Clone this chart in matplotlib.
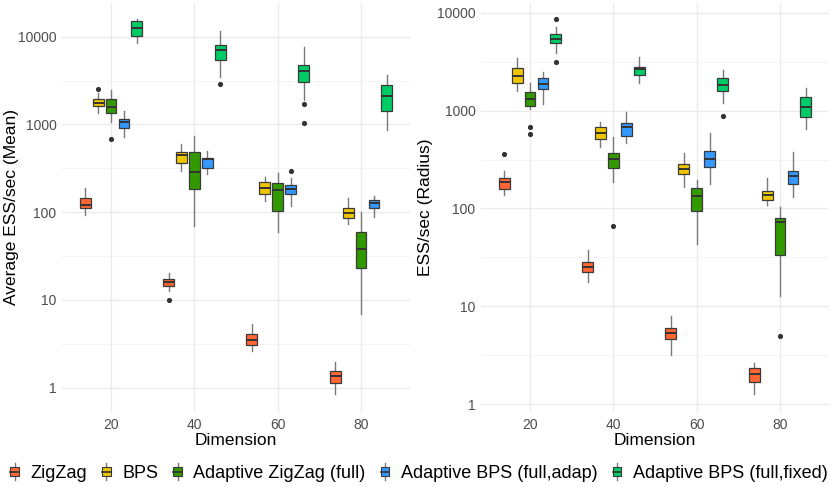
import matplotlib
matplotlib.use("Agg")
import matplotlib.pyplot as plt
import numpy as np
from matplotlib.legend_handler import HandlerBase
from matplotlib.patches import Rectangle, Patch
from matplotlib.lines import Line2D

plt.rcParams['font.family'] = ['Liberation Sans', 'DejaVu Sans']

dimensions = [20, 40, 60, 80]
methods = ["ZigZag", "BPS", "Adaptive ZigZag (full)", "Adaptive BPS (full,adap)", "Adaptive BPS (full,fixed)"]
colors = ["#FF6633", "#EEC600", "#339900", "#3399FF", "#00CC66"]
offsets = [-6.2, -3.1, 0.0, 3.1, 6.2]

# stats per dimension: (whisker low, q1, median, q3, whisker high)
mean_zigzag = [(93, 111, 121, 144, 187), (12.5, 14.3, 16.0, 17.3, 20.2),
               (2.59, 3.09, 3.46, 4.12, 5.35), (0.855, 1.13, 1.37, 1.53, 1.94)]
mean_zigzag_out = [[], [9.96], [], []]
mean_bps = [(1340, 1638, 1742, 1935, 2303), (298, 361, 450, 491, 600),
            (135, 160, 191, 221, 250), (73, 85.5, 97.5, 113, 144)]
mean_bps_out = [[2537], [], [], []]
mean_azz = [(1077, 1340, 1596, 1950, 2470), (70, 183, 290, 491, 746),
            (58.7, 104, 180, 214, 278), (6.96, 23.4, 38.3, 58.7, 100)]
mean_azz_out = [[678], [], [], []]
mean_abps_adap = [(714, 904, 1058, 1145, 1425), (273, 323, 401, 419, 504),
                  (119, 162, 186, 205, 244), (87.7, 111, 127, 137, 153)]
mean_abps_adap_out = [[], [], [298], []]
mean_abps_fixed = [(8550, 10260, 12660, 15080, 15890), (3505, 5420, 7050, 8040, 11700),
                   (1900, 3050, 4100, 4760, 7700), (866, 1413, 2129, 2793, 3665)]
mean_abps_fixed_out = [[], [2866], [1698, 1040], []]

radius_zigzag = [(137, 158, 186, 203, 243), (17.8, 22.2, 25.3, 28.5, 38.1),
                 (3.17, 4.62, 5.41, 6.08, 8.0), (1.26, 1.69, 2.06, 2.37, 2.67)]
radius_zigzag_out = [[359], [], [], []]
radius_bps = [(1595, 1925, 2252, 2700, 3414), (421, 511, 593, 673, 769),
              (164, 224, 252, 284, 371), (108, 122, 137, 150, 203)]
radius_bps_out = [[], [], [], []]
radius_azz = [(1028, 1120, 1300, 1534, 1896), (187, 260, 319, 365, 540),
              (42.9, 94, 135, 163, 195), (12.7, 33.3, 73.1, 80.9, 104)]
radius_azz_out = [[683, 575], [66.5], [], [4.99]]
radius_abps_adap = [(1165, 1659, 1851, 2133, 2455), (469, 548, 673, 739, 973),
                    (176, 267, 324, 388, 584), (132, 176, 216, 241, 379)]
radius_abps_adap_out = [[], [], [], []]
radius_abps_fixed = [(3900, 4860, 5340, 6050, 7080), (1925, 2306, 2635, 2806, 3494),
                     (1202, 1582, 1823, 2133, 2594), (642, 865, 1094, 1364, 1685)]
radius_abps_fixed_out = [[8690, 3107], [], [885], []]

ytick_values = [1, 10, 100, 1000, 10000]
ytick_labels = ["1", "10", "100", "1000", "10000"]
xtick_values = [20, 40, 60, 80]

mean_series = [(mean_zigzag, mean_zigzag_out), (mean_bps, mean_bps_out), (mean_azz, mean_azz_out),
               (mean_abps_adap, mean_abps_adap_out), (mean_abps_fixed, mean_abps_fixed_out)]
radius_series = [(radius_zigzag, radius_zigzag_out), (radius_bps, radius_bps_out),
                 (radius_azz, radius_azz_out), (radius_abps_adap, radius_abps_adap_out),
                 (radius_abps_fixed, radius_abps_fixed_out)]

W, H = 830, 487
fig = plt.figure(figsize=(W / 100, H / 100), dpi=100)
fig.patch.set_facecolor("white")


def px_axes(x0, x1, y0, y1):
    return fig.add_axes([x0 / W, 1 - y1 / H, (x1 - x0) / W, (y1 - y0) / H])


ax1 = px_axes(62, 410, 3, 412)
ax2 = px_axes(481, 829, 3, 412)

GRID = "#EBEBEB"
TICKC = "#4D4D4D"


def draw_panel(ax, series, ylim):
    ax.set_yscale("log")
    ax.set_xlim(8.24, 91.76)
    ax.set_ylim(*ylim)
    ax.set_axisbelow(True)
    for d in xtick_values:
        ax.axvline(d, color=GRID, lw=1.0, zorder=0)
    for v in ytick_values:
        ax.axhline(v, color=GRID, lw=1.0, zorder=0)
    for v in [10 ** (k + 0.5) for k in range(-1, 5)]:
        ax.axhline(v, color="#F3F3F3", lw=0.6, zorder=0)
    for (stats, outs), col, off in zip(series, colors, offsets):
        bstats = []
        for (wl, q1, med, q3, wh), fl in zip(stats, outs):
            bstats.append(dict(whislo=wl, q1=q1, med=med, q3=q3, whishi=wh, fliers=fl))
        pos = [d + off for d in dimensions]
        bp = ax.bxp(bstats, positions=pos, widths=2.6, patch_artist=True, showcaps=False,
                    manage_ticks=False,
                    boxprops=dict(facecolor=col, edgecolor="#3A3A3A", linewidth=0.9),
                    whiskerprops=dict(color="#7A7A7A", linewidth=1.0),
                    medianprops=dict(color="#333333", linewidth=1.4),
                    flierprops=dict(marker="o", markersize=2.7, markerfacecolor="#333333",
                                    markeredgecolor="#333333", linestyle="none"))
        for b in bp["boxes"]:
            b.set_zorder(3)
        for m in bp["medians"]:
            m.set_zorder(4)
    for s in ax.spines.values():
        s.set_visible(False)
    ax.set_yticks(ytick_values)
    ax.set_yticklabels(ytick_labels)
    ax.yaxis.set_minor_locator(matplotlib.ticker.NullLocator())
    ax.set_xticks(xtick_values)
    ax.set_xticklabels([str(v) for v in xtick_values])
    ax.tick_params(length=0, labelsize=10, labelcolor=TICKC, pad=4)
    ax.set_xlabel("Dimension", fontsize=12.5, labelpad=1, color="black")


draw_panel(ax1, mean_series, (10 ** -0.277, 10 ** 4.384))
draw_panel(ax2, radius_series, (10 ** -0.0787, 10 ** 4.099))

fig.text(12 / W, 1 - 207 / H, "Average ESS/sec (Mean)", rotation=90, ha="center", va="center", fontsize=12.5)
fig.text(425 / W, 1 - 207 / H, "ESS/sec (Radius)", rotation=90, ha="center", va="center", fontsize=12.5)


class BoxKey(HandlerBase):
    def create_artists(self, legend, orig_handle, xdescent, ydescent, width, height, fontsize, trans):
        col = orig_handle.get_facecolor()
        cx = width / 2 - xdescent
        cy = height / 2 - ydescent
        bw = width * 0.85
        bh = height * 0.62
        wl = Line2D([cx, cx], [cy - height * 0.55, cy + height * 0.55], color="#7A7A7A", lw=1.0, transform=trans)
        r = Rectangle((cx - bw / 2, cy - bh / 2), bw, bh, facecolor=col, edgecolor="#3A3A3A", lw=0.8, transform=trans)
        md = Line2D([cx - bw / 2, cx + bw / 2], [cy, cy], color="#333333", lw=1.2, transform=trans)
        return [wl, r, md]


handles = [Patch(facecolor=c) for c in colors]
leg = fig.legend(handles, methods, loc="center", bbox_to_anchor=((10 + 827) / 2 / W, 1 - 473 / H),
                 ncol=5, frameon=False, fontsize=13, handler_map={Patch: BoxKey()},
                 handlelength=0.55, handleheight=0.9, handletextpad=0.6, columnspacing=0.8,
                 borderpad=0, borderaxespad=0)

fig.savefig("out.png", dpi=100)
